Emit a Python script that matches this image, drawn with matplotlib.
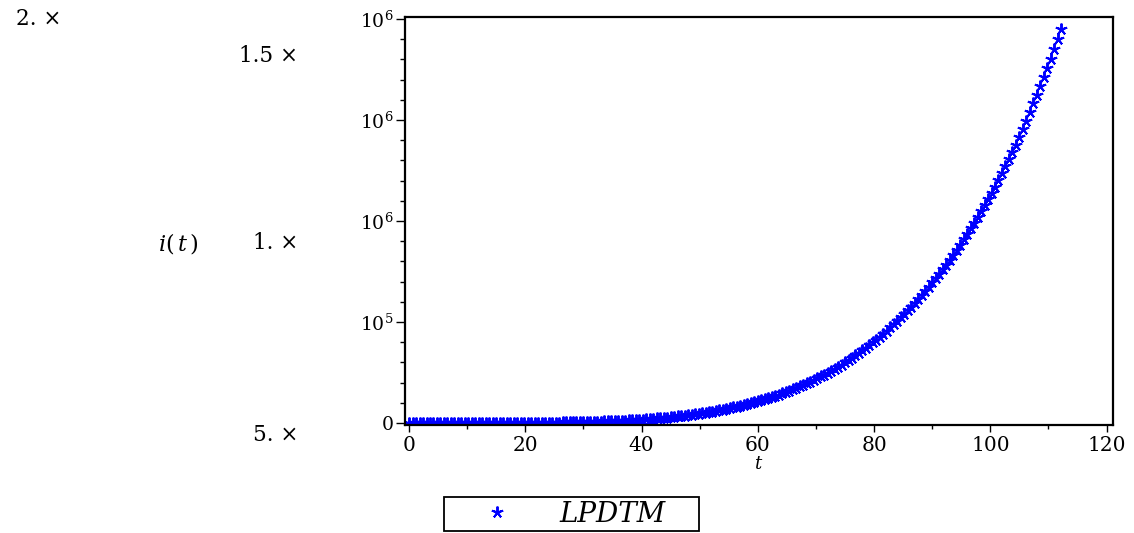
import matplotlib
matplotlib.use("Agg")
import matplotlib.pyplot as plt
from matplotlib.ticker import MultipleLocator

# ---------------- data ----------------
T_VALUES = [
    0.0, 0.6, 1.2, 1.8, 2.4, 3.0, 3.6, 4.2, 4.8, 5.4,
    6.0, 6.6, 7.2, 7.8, 8.4, 9.0, 9.6, 10.2, 10.8, 11.4,
    12.0, 12.6, 13.2, 13.8, 14.4, 15.0, 15.6, 16.2, 16.8, 17.4,
    18.0, 18.6, 19.2, 19.8, 20.4, 21.0, 21.6, 22.2, 22.8, 23.4,
    24.0, 24.6, 25.2, 25.8, 26.4, 27.0, 27.6, 28.2, 28.8, 29.4,
    30.0, 30.6, 31.2, 31.8, 32.4, 33.0, 33.6, 34.2, 34.8, 35.4,
    36.0, 36.6, 37.2, 37.8, 38.4, 39.0, 39.6, 40.2, 40.8, 41.4,
    42.0, 42.6, 43.2, 43.8, 44.4, 45.0, 45.6, 46.2, 46.8, 47.4,
    48.0, 48.6, 49.2, 49.8, 50.4, 51.0, 51.6, 52.2, 52.8, 53.4,
    54.0, 54.6, 55.2, 55.8, 56.4, 57.0, 57.6, 58.2, 58.8, 59.4,
    60.0, 60.6, 61.2, 61.8, 62.4, 63.0, 63.6, 64.2, 64.8, 65.4,
    66.0, 66.6, 67.2, 67.8, 68.4, 69.0, 69.6, 70.2, 70.8, 71.4,
    72.0, 72.6, 73.2, 73.8, 74.4, 75.0, 75.6, 76.2, 76.8, 77.4,
    78.0, 78.6, 79.2, 79.8, 80.4, 81.0, 81.6, 82.2, 82.8, 83.4,
    84.0, 84.6, 85.2, 85.8, 86.4, 87.0, 87.6, 88.2, 88.8, 89.4,
    90.0, 90.6, 91.2, 91.8, 92.4, 93.0, 93.6, 94.2, 94.8, 95.4,
    96.0, 96.6, 97.2, 97.8, 98.4, 99.0, 99.6, 100.2, 100.8, 101.4,
    102.0, 102.6, 103.2, 103.8, 104.4, 105.0, 105.6, 106.2, 106.8, 107.4,
    108.0, 108.6, 109.2, 109.8, 110.4, 111.0, 111.6, 112.2,
]
I_VALUES = [
    0, 0, 0, 0, 0, 0, 0, 1, 1, 2,
    3, 4, 6, 9, 13, 18, 24, 31, 40, 52,
    66, 79, 95, 115, 139, 167, 201, 242, 292, 352,
    424, 484, 553, 631, 720, 822, 938, 1071, 1222, 1395,
    1593, 1765, 1955, 2167, 2401, 2660, 2948, 3267, 3620, 4011,
    4445, 4834, 5256, 5716, 6216, 6760, 7352, 7995, 8694, 9455,
    10282, 11038, 11849, 12719, 13654, 14657, 15734, 16891, 18132, 19464,
    20894, 22217, 23625, 25121, 26713, 28405, 30204, 32118, 34153, 36316,
    38618, 40768, 43038, 45434, 47964, 50634, 53453, 56429, 59571, 62887,
    66389, 69686, 73147, 76779, 80592, 84594, 88795, 93205, 97833, 102692,
    107790, 112621, 117668, 122942, 128452, 134209, 140224, 146508, 153074, 159935,
    167107, 173932, 181034, 188427, 196122, 204131, 212467, 221144, 230174, 239574,
    249352, 258704, 268407, 278474, 288918, 299754, 310997, 322661, 334763, 347318,
    360345, 372841, 385770, 399147, 412989, 427310, 442128, 457459, 473323, 489736,
    506715, 523054, 539920, 557330, 575301, 593852, 613001, 632767, 653171, 674232,
    695977, 716949, 738553, 760808, 783733, 807349, 831677, 856738, 882554, 909148,
    936565, 963051, 990286, 1018292, 1047089, 1076701, 1107150, 1138460, 1170655, 1203762,
    1237804, 1270780, 1304635, 1339392, 1375075, 1414500, 1455100, 1496900, 1539800, 1582400,
    1626100, 1668700, 1712500, 1757300, 1803400, 1850600, 1899100, 1948800,
]
SERIES_LABEL = "LPDTM"
X_TICKS = [0, 20, 40, 60, 80, 100, 120]
Y_TICKS = [0, 500000, 1000000, 1500000, 2000000]
Y_TICK_LABELS = ["0", r"$10^{5}$", r"$10^{6}$", r"$10^{6}$", r"$10^{6}$"]
Y_PREFIXES = ["2. \u00d7", "1.5 \u00d7", "1. \u00d7", "5. \u00d7"]
Y_LABEL = r"$i(\,t\,)$"
X_LABEL = r"$t$"

# ---------------- style ----------------
plt.rcParams["font.family"] = ["DejaVu Serif"]
plt.rcParams["mathtext.fontset"] = "dejavuserif"

W, H = 1134, 533
fig = plt.figure(figsize=(W / 100, H / 100), dpi=100)


def fx(px):
    return px / W


def fy(py):
    return 1 - py / H


ax = fig.add_axes([fx(405), fy(425), fx(1113) - fx(405), fy(17) - fy(425)])
ax.plot(T_VALUES, I_VALUES, linestyle="none", marker=(5, 2, 0), ms=8.5, mew=1.4,
        color="#0000ff", label=SERIES_LABEL)

ax.set_xlim(-0.7, 121.1)
ax.set_ylim(-10000, 2009900)

ax.set_xticks(X_TICKS)
ax.xaxis.set_minor_locator(MultipleLocator(10))
ax.set_yticks(Y_TICKS, Y_TICK_LABELS)
ax.yaxis.set_minor_locator(MultipleLocator(100000))

ax.tick_params(axis="both", which="both", direction="out", top=False, right=False,
               colors="black")
ax.tick_params(axis="x", which="major", length=5, width=1, labelsize=14.5, pad=3)
ax.tick_params(axis="x", which="minor", length=3, width=1)
ax.tick_params(axis="y", which="major", length=6.5, width=1, labelsize=13.5, pad=1.5)
ax.tick_params(axis="y", which="minor", length=3.5, width=1)
for s in ax.spines.values():
    s.set_linewidth(1.6)
    s.set_color("black")

ax.set_xlabel(X_LABEL, fontsize=13, labelpad=0)

# detached prefixes of the y tick labels (as in the original export)
prefix_pos = [(61, 19), (298, 56), (298, 243), (298, 435)]
for txt, (px, py) in zip(Y_PREFIXES, prefix_pos):
    fig.text(fx(px), fy(py), txt, ha="right", va="center", fontsize=15.5)

fig.text(fx(178), fy(243), Y_LABEL, ha="center", va="center", fontsize=16)

handles, labels = ax.get_legend_handles_labels()
leg = fig.legend(handles, labels, loc="lower left",
                 bbox_to_anchor=(fx(444), fy(531), fx(699) - fx(444), fy(496) - fy(531)),
                 mode="expand", borderaxespad=0, borderpad=0.12,
                 handlelength=3.6, handletextpad=0.45, numpoints=1,
                 prop={"family": "DejaVu Serif", "style": "italic", "size": 20},
                 frameon=True, fancybox=False, framealpha=1, edgecolor="black")
leg.get_frame().set_linewidth(1.3)

fig.savefig("out.png", dpi=100)
